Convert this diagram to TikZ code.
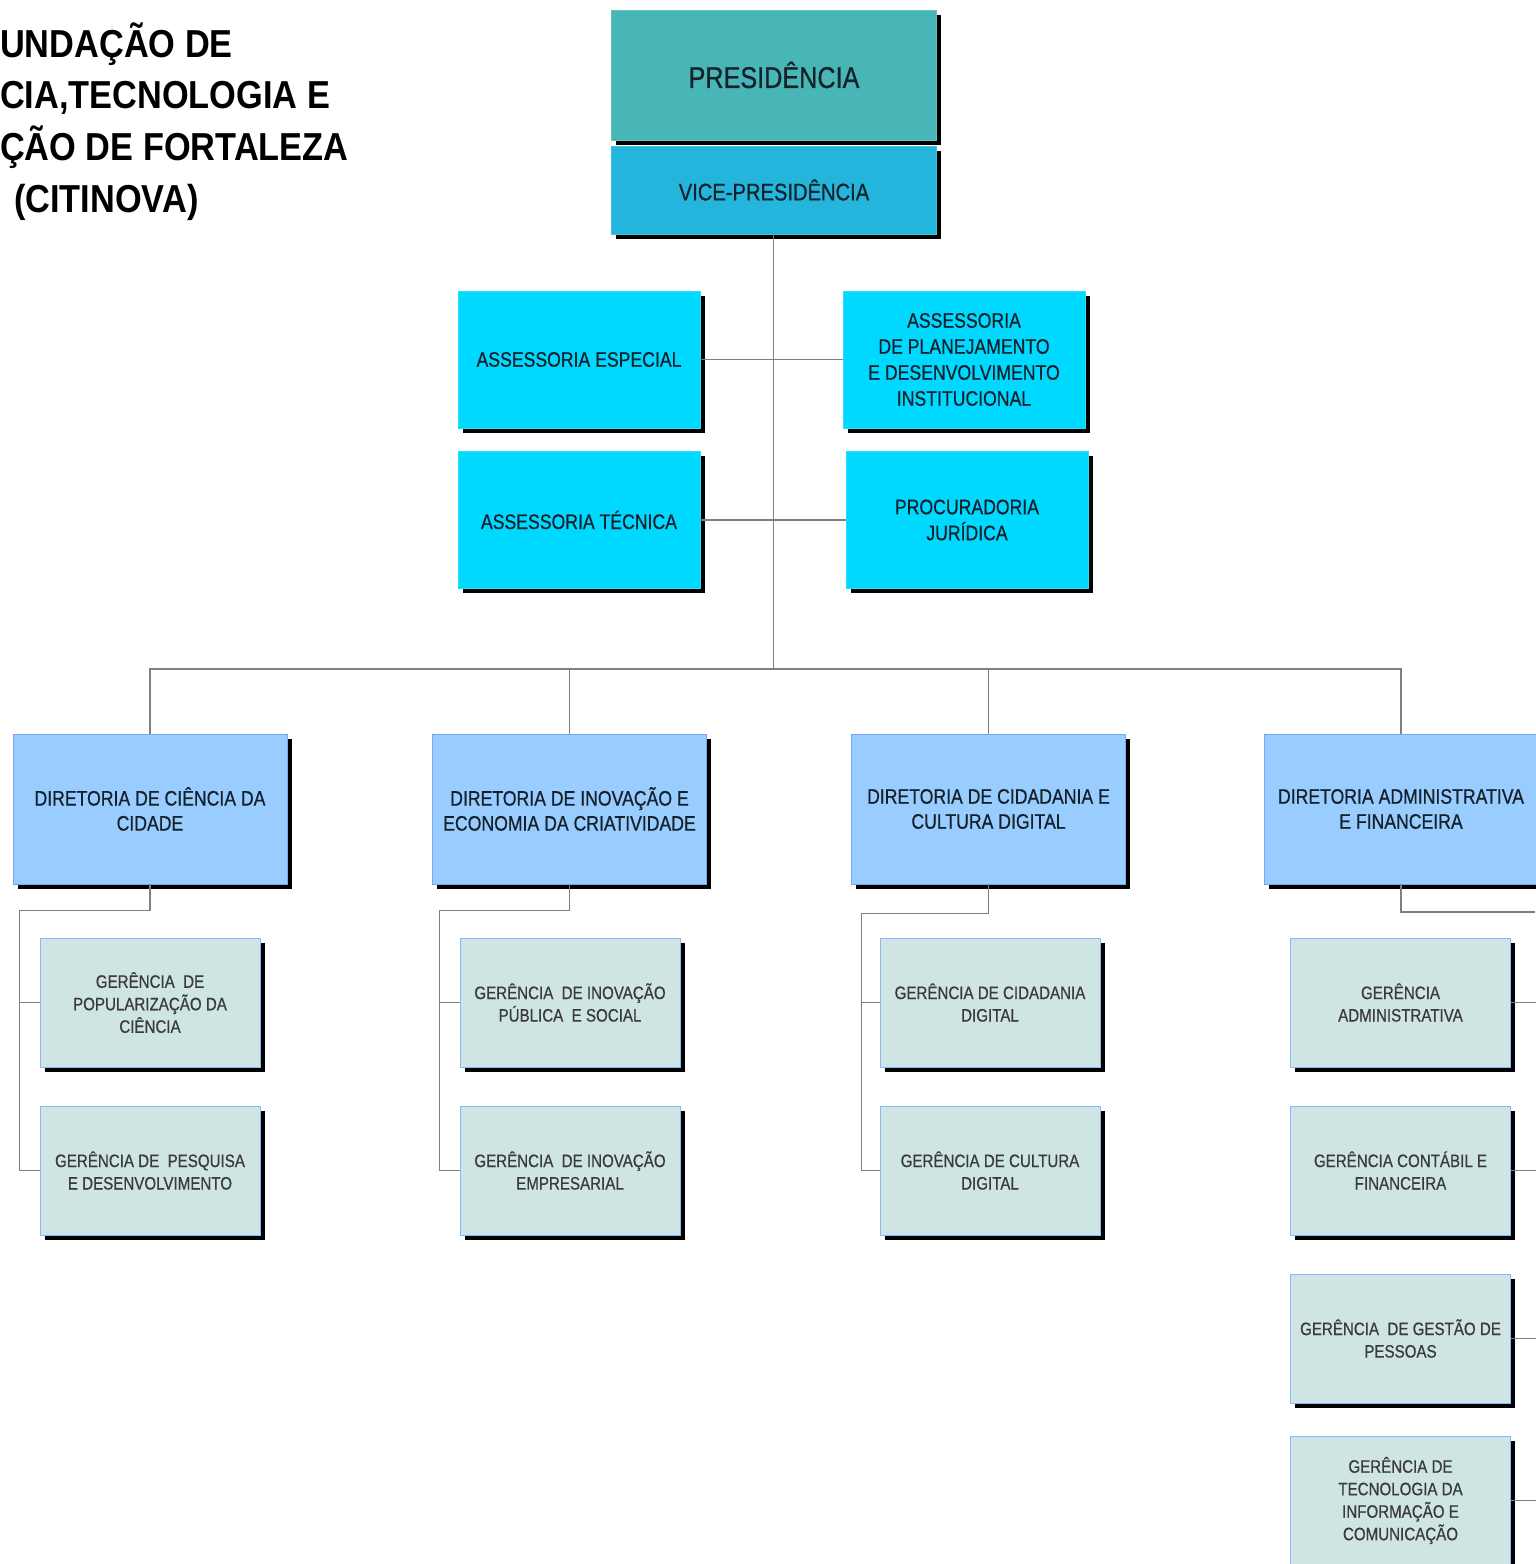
\documentclass[tikz,border=0pt]{standalone}
\usepackage{fontspec}
\setmainfont[FakeStretch=0.84,FakeBold=0.6]{Liberation Sans}
\newfontfamily\titlefont[FakeStretch=0.88]{Liberation Sans}
\usetikzlibrary{shadows}
\definecolor{cpres}{HTML}{48B6B6}
\definecolor{cvice}{HTML}{23B5DC}
\definecolor{cass}{HTML}{00D9FF}
\definecolor{cdir}{HTML}{99CCFF}
\definecolor{cger}{HTML}{CFE5E3}
\definecolor{cline}{HTML}{808080}
\definecolor{ctxt}{HTML}{14202A}
\definecolor{cgtxt}{HTML}{3A3A3A}
\begin{document}
\begin{tikzpicture}[x=1pt,y=-1pt,
  box/.style={rectangle, inner sep=2pt, align=center, line width=0.6pt,
    drop shadow={shadow xshift=4.5pt, shadow yshift=-4.5pt, fill=black, opacity=1}},
  presbox/.style={box, fill=cpres, draw=cpres!85!white, minimum width=325pt, minimum height=130pt,
    text=ctxt, font=\fontsize{30}{34}\selectfont},
  vicebox/.style={box, fill=cvice, draw=cvice!85!white, minimum width=325pt, minimum height=88pt,
    text=ctxt, font=\fontsize{24}{28}\selectfont},
  assbox/.style={box, fill=cass, draw=cass!85!white, minimum width=242pt, minimum height=137pt,
    text=ctxt, font=\fontsize{21}{26}\selectfont},
  dirbox/.style={box, fill=cdir, draw=cdir!80!blue, minimum width=274pt, minimum height=150pt,
    text=ctxt, font=\fontsize{21}{25}\selectfont},
  gerbox/.style={box, fill=cger, draw=cdir!90!blue, minimum width=220pt, minimum height=129pt,
    text=cgtxt, font=\fontsize{18}{22.5}\selectfont},
  conn/.style={draw=cline, line width=1.5pt},
  titletext/.style={anchor=base west, inner sep=0pt, font=\titlefont\bfseries\fontsize{39}{44}\selectfont}]
\useasboundingbox (0,0) rectangle (1535,1564);
\fill[white] (0,0) rectangle (1535,1564);

% title
\node[titletext] (t1) at (0,57) {UNDAÇÃO DE};
\node[titletext] (t2) at (0,108) {CIA,TECNOLOGIA E};
\node[titletext] (t3) at (0,160) {ÇÃO DE FORTALEZA};
\node[titletext] (t4) at (14,212) {(CITINOVA)};

% top
\node[presbox] (pres) at (774,75) {PRESIDÊNCIA};
\node[vicebox] (vp) at (774,190) {VICE-PRESIDÊNCIA};

% assessorias
\node[assbox] (ae) at (579,359.5) {ASSESSORIA ESPECIAL};
\node[assbox] (apd) at (964,359.5) {ASSESSORIA\\DE PLANEJAMENTO\\E DESENVOLVIMENTO\\INSTITUCIONAL};
\node[assbox] (at) at (579,520) {ASSESSORIA TÉCNICA};
\node[assbox] (pj) at (967,520) {PROCURADORIA\\JURÍDICA};

% diretorias
\node[dirbox] (d1) at (150,809) {DIRETORIA DE CIÊNCIA DA\\CIDADE};
\node[dirbox] (d2) at (569.5,809) {DIRETORIA DE INOVAÇÃO E\\ECONOMIA DA CRIATIVIDADE};
\node[dirbox] (d3) at (988.5,809) {DIRETORIA DE CIDADANIA E\\CULTURA DIGITAL};
\node[dirbox] (d4) at (1401,809) {DIRETORIA ADMINISTRATIVA\\E FINANCEIRA};

% gerencias
\node[gerbox] (g1a) at (150,1002.5) {GERÊNCIA \ DE\\POPULARIZAÇÃO DA\\CIÊNCIA};
\node[gerbox] (g1b) at (150,1170.5) {GERÊNCIA DE \ PESQUISA\\E DESENVOLVIMENTO};
\node[gerbox] (g2a) at (570,1002.5) {GERÊNCIA \ DE INOVAÇÃO\\PÚBLICA \ E SOCIAL};
\node[gerbox] (g2b) at (570,1170.5) {GERÊNCIA \ DE INOVAÇÃO\\EMPRESARIAL};
\node[gerbox] (g3a) at (990,1002.5) {GERÊNCIA DE CIDADANIA\\DIGITAL};
\node[gerbox] (g3b) at (990,1170.5) {GERÊNCIA DE CULTURA\\DIGITAL};
\node[gerbox] (g4a) at (1400.5,1002.5) {GERÊNCIA\\ADMINISTRATIVA};
\node[gerbox] (g4b) at (1400.5,1170.5) {GERÊNCIA CONTÁBIL E\\FINANCEIRA};
\node[gerbox] (g4c) at (1400.5,1338.5) {GERÊNCIA \ DE GESTÃO DE\\PESSOAS};
\node[gerbox] (g4d) at (1400.5,1500.5) {GERÊNCIA DE\\TECNOLOGIA DA\\INFORMAÇÃO E\\COMUNICAÇÃO};

% connectors
\coordinate (hub) at (773.5,669);
\coordinate (redge) at (1535,912);
\draw[conn] (vp.south -| hub) -- (hub);
\draw[conn] (ae.east) -- (apd.west);
\draw[conn] (at.east) -- (pj.west);
\draw[conn] (d1.north) -- (d1.north |- hub) -| (d4.north);
\draw[conn] (d2.north) -- (d2.north |- hub);
\draw[conn] (d3.north) -- (d3.north |- hub);

\draw[conn] (d1.south) -- ++(0,26) -| ([xshift=-20pt]g1b.west) -- (g1b.west);
\draw[conn] ([xshift=-20pt]g1a.west) -- (g1a.west);
\draw[conn] (d2.south) -- ++(0,26) -| ([xshift=-20pt]g2b.west) -- (g2b.west);
\draw[conn] ([xshift=-20pt]g2a.west) -- (g2a.west);
\draw[conn] (d3.south) -- ++(0,29) -| ([xshift=-18pt]g3b.west) -- (g3b.west);
\draw[conn] ([xshift=-18pt]g3a.west) -- (g3a.west);
\draw[conn] (d4.south) |- (redge);
\draw[conn] (g4a.east) -- ++(25,0);
\draw[conn] (g4b.east) -- ++(25,0);
\draw[conn] (g4c.east) -- ++(25,0);
\draw[conn] (g4d.east) -- ++(25,0);
\end{tikzpicture}
\end{document}
